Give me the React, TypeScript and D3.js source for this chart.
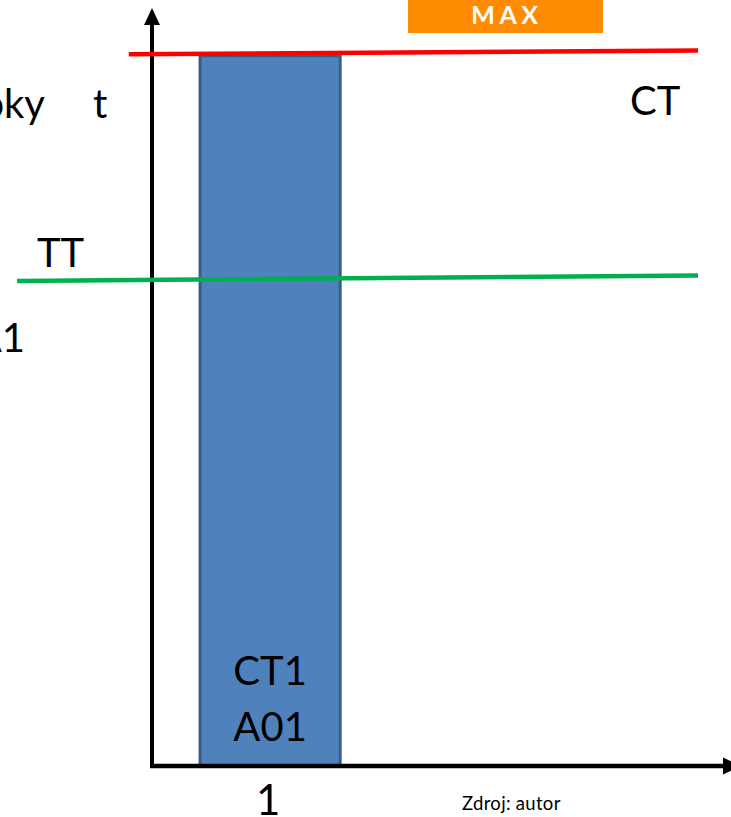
import React from "react";
import * as d3 from "d3";

// ---- data (chart units: x 0..100 along the axis, y 0..100 up the axis) ----
const categories = ["1"];
const barStart = [8.3];
const barEnd = [32.5];
const barValues = [93.7];
const barLabels = [["CT1", "A01"]];

const lineNames = ["CT", "TT"];
const lineX = [[-4, 94.3], [-23.3, 94.3]];
const lineY = [[93.9, 94.4], [64.0, 64.7]];
const lineColors = ["#FF0000", "#00B050"];

const W = 731;
const H = 817;
const FONT = "Lato, 'Open Sans', sans-serif";

export default function App() {
  const x = d3.scaleLinear().domain([0, 100]).range([152, 731]);
  const y = d3.scaleLinear().domain([0, 100]).range([766, 8]);
  const lineGen = d3
    .line<[number, number]>()
    .x((d) => x(d[0]))
    .y((d) => y(d[1]));

  const axisX0 = x(0);
  const axisY0 = y(0);

  return (
    <svg
      width={W}
      height={H}
      style={{ position: "absolute", left: 0, top: 0, background: "#fff" }}
      fontFamily={FONT}
    >
      <rect width={W} height={H} fill="#fff" />
      {/* MAX badge */}
      <rect x={408} y={0} width={195} height={33} fill="#FF8C00" />
      <text
        x={507}
        y={24}
        textAnchor="middle"
        fill="#fff"
        fontWeight="bold"
        fontSize={25}
        letterSpacing={4.5}
      >
        MAX
      </text>

      {/* bar */}
      {categories.map((c, i) => (
        <g key={c}>
          <rect
            x={x(barStart[i])}
            y={y(barValues[i])}
            width={x(barEnd[i]) - x(barStart[i])}
            height={axisY0 - y(barValues[i])}
            fill="#4F81BD"
            stroke="#385D8A"
            strokeWidth={3}
          />
          {barLabels[i].map((t, j) => (
            <text
              key={t}
              x={(x(barStart[i]) + x(barEnd[i])) / 2}
              y={685 + j * 56}
              textAnchor="middle"
              fontSize={40}
              fill="#000"
            >
              {t}
            </text>
          ))}
          <text
            x={(x(barStart[i]) + x(barEnd[i])) / 2 - 2}
            y={815}
            textAnchor="middle"
            fontSize={42}
            fill="#000"
          >
            {c}
          </text>
        </g>
      ))}

      {/* axes */}
      <line x1={axisX0} y1={axisY0 + 2} x2={axisX0} y2={y(98)} stroke="#000" strokeWidth={4} />
      <path
        d={`M${axisX0 - 8},${25} L${axisX0},${8} L${axisX0 + 8},${25} Z`}
        fill="#000"
      />
      <line x1={axisX0 - 2} y1={axisY0} x2={724} y2={axisY0} stroke="#000" strokeWidth={4.5} />
      <path
        d={`M${723},${axisY0 - 8.5} L${741},${axisY0} L${723},${axisY0 + 8.5} Z`}
        fill="#000"
      />

      {/* reference lines */}
      {lineNames.map((n, i) => (
        <path
          key={n}
          d={lineGen(lineX[i].map((v, k) => [v, lineY[i][k]]) as [number, number][]) || ""}
          stroke={lineColors[i]}
          strokeWidth={4.5}
          fill="none"
        />
      ))}

      {/* labels */}
      <text x={45} y={118} textAnchor="end" fontSize={40} fill="#000">
        oky
      </text>
      <text x={93} y={118} fontSize={40} fill="#000">
        t
      </text>
      <text x={37} y={267} fontSize={40} fill="#000">
        TT
      </text>
      <text x={25} y={352} textAnchor="end" fontSize={40} fill="#000">
        A1
      </text>
      <text x={630} y={115} fontSize={40} fill="#000">
        CT
      </text>
      <text x={462} y={810} fontSize={18.5} fill="#000" letterSpacing={0.3}>
        Zdroj: autor
      </text>
    </svg>
  );
}
